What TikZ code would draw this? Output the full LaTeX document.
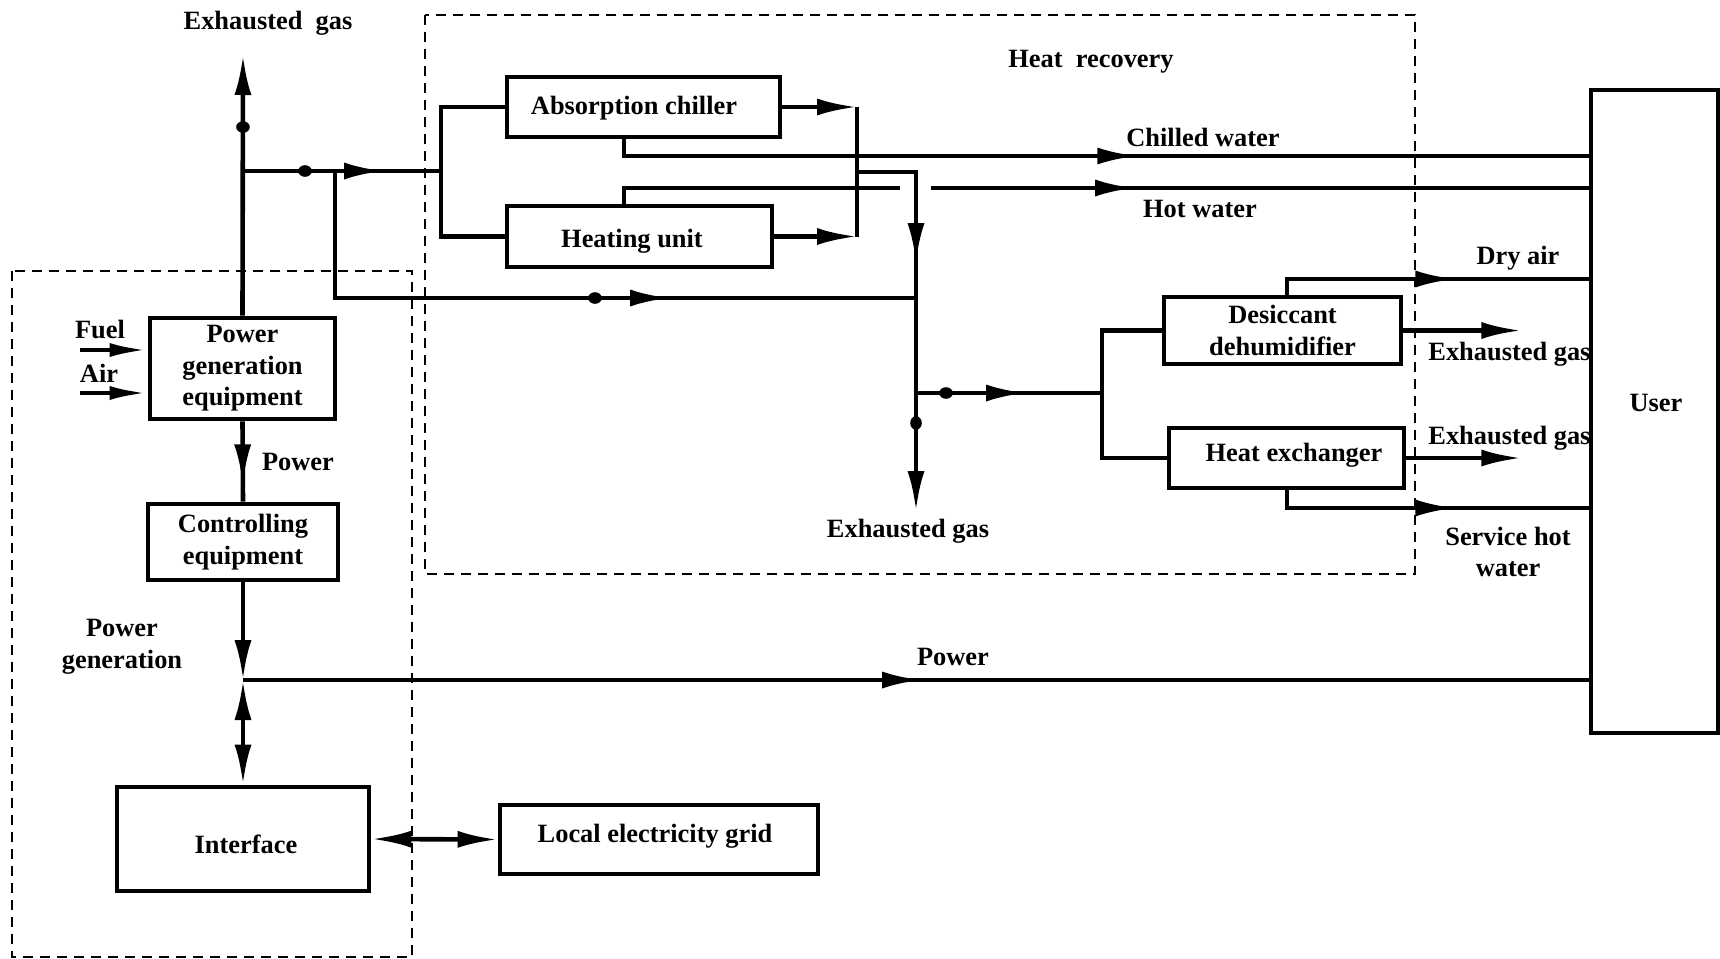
\documentclass[tikz,border=0pt]{standalone}
\usepackage{fontspec}
\setmainfont{Liberation Serif}
\usetikzlibrary{arrows.meta,decorations.markings,calc}
\begin{document}
\begin{tikzpicture}[x=0.5pt,y=-0.5pt,
  font=\fontsize{13.2pt}{15.8pt}\selectfont\bfseries,
  ln/.style={line width=2.3pt},
  blk/.style={draw,line width=2.4pt,inner sep=0pt,align=center},
  dsh/.style={line width=1pt,dash pattern=on 5pt off 3.5pt},
  ah/.tip={Latex[length=20pt,width=8.5pt]},
  ahl/.tip={Latex[length=19pt,width=7pt]},
  amark/.style={postaction={decorate},decoration={markings,mark=at position #1 with {\arrow{ah}}}},
  lbl/.style={align=center,inner sep=0pt},
]
\useasboundingbox (0,0) rectangle (1720,959);

% dashed regions
\draw[dsh] (425,15) rectangle (1415,574);
\draw[dsh] (12,271) rectangle (412,957);

% labels near user box (drawn before it)
\node[lbl,anchor=west] (lEx1) at (1428,354) {Exhausted gas};
\node[lbl,anchor=west] (lEx2) at (1428,438) {Exhausted gas};

% boxes
\node[blk,minimum width=92.5pt,minimum height=50.5pt] (pge) at (242.5,368.5) {Power\\generation\\equipment};
\node[blk,minimum width=95pt,minimum height=38pt] (ctrl) at (243,542) {Controlling\\equipment};
\node[blk,minimum width=126pt,minimum height=52pt] (iface) at (243,839) {};
\node[blk,minimum width=159pt,minimum height=34.5pt] (grid) at (659,839.5) {};
\node[blk,minimum width=136.5pt,minimum height=30pt] (chiller) at (643.5,107) {};
\node[blk,minimum width=132.5pt,minimum height=30.5pt] (heating) at (639.5,236.5) {};
\node[blk,minimum width=118.5pt,minimum height=33.5pt] (desic) at (1282.5,330.5) {Desiccant\\dehumidifier};
\node[blk,minimum width=117.5pt,minimum height=30pt] (hx) at (1286.5,458) {};
\node[blk,fill=white,minimum width=63.5pt,minimum height=321.5pt] (user) at (1654.5,411.5) {};

% box texts
\node[lbl] (tIface) at (246,844) {Interface};
\node[lbl] (tGrid) at (655,836) {Local electricity grid};
\node[lbl] (tChiller) at (634,108) {Absorption chiller};
\node[lbl] (tHeating) at (632,241) {Heating unit};
\node[lbl] (tHx) at (1294,455) {Heat exchanger};
\node[lbl] (tUser) at (1656,403) {User};

% coordinates
\coordinate (exTop) at (243,55);
\coordinate (J1) at (243,171);
\coordinate (J2) at (335,171);
\coordinate (jb) at (441,171);
\coordinate (J4) at (916,298);
\coordinate (cb) at (857,172);
\coordinate (J5) at (916,393);
\coordinate (exBot) at (916,511);
\coordinate (db) at (1102,393);
\coordinate (J3) at (243,680);
\coordinate (fuelS) at (80,350);
\coordinate (airS) at (80,393);
\coordinate (cw) at (624,156);
\coordinate (hw) at (624,188);
\coordinate (hwGap1) at (900,188);
\coordinate (hwGap2) at (931,188);
\coordinate (da) at (1287,279);
\coordinate (sw) at (1287,508);

% connectors
\draw[ln,-{ah}] (pge.north) -- (exTop);
\draw[ln,amark=70.5pt] (J1) -- (jb);
\draw[ln] (chiller.west) -| (jb) |- (heating.west);
\draw[ln,amark=231pt] (J2) |- (J4);
\draw[ln,-{ah}] (chiller.east) -- (chiller.east -| cb);
\draw[ln,-{ah}] (heating.east) -- (heating.east -| cb);
\draw[ln] (chiller.east -| cb) -- (heating.east -| cb);
\draw[ln,amark=75pt,-{ah}] (cb) -| (exBot);
\draw[ln,amark=55pt] (J5) -- (db);
\draw[ln] (desic.west) -| (db) |- (hx.west);
\draw[ln,amark=265pt] (chiller.south -| cw) |- (user.west |- cw);
\draw[ln] (heating.north -| hw) |- (hwGap1);
\draw[ln,amark=102pt] (hwGap2) -- (user.west |- hwGap2);
\draw[ln,amark=92pt] (desic.north -| da) |- (user.west |- da);
\draw[ln,-{ah}] (desic.east) -- ++(118,0);
\draw[ln,-{ah}] (hx.east) -- ++(115,0);
\draw[ln,amark=93pt] (hx.south -| sw) |- (user.west |- sw);
\draw[ln,-{ahl}] (fuelS) -- (fuelS -| pge.west);
\draw[ln,-{ahl}] (airS) -- (airS -| pge.west);
\draw[ln,amark=31.5pt] (pge.south) -- (ctrl.north);
\draw[ln,-{ah}] (ctrl.south) -- (J3);
\draw[ln,{ah}-{ah}] (J3) -- (iface.north);
\draw[ln,amark=339.5pt] (J3) -- (user.west |- J3);
\draw[ln,{ah}-{ah}] (iface.east) -- (grid.west);

% valve blobs
\fill (243,127) circle[x radius=3.4pt,y radius=2.9pt];
\fill (305,171) circle[x radius=3.4pt,y radius=2.9pt];
\fill (595,298) circle[x radius=3.4pt,y radius=2.9pt];
\fill (946,393) circle[x radius=3.4pt,y radius=2.9pt];
\fill (916,423) circle[x radius=2.9pt,y radius=3.4pt];

% labels
\node[lbl] (lExTop) at (268,23) {Exhausted\ \ gas};
\node[lbl] (lHR) at (1091,62) {Heat\ \ recovery};
\node[lbl] (lCW) at (1203,137) {Chilled water};
\node[lbl] (lHW) at (1200,209) {Hot water};
\node[lbl] (lExB) at (908,531) {Exhausted gas};
\node[lbl] (lDA) at (1518,258) {Dry air};
\node[lbl] (lSHW) at (1508,552) {Service hot\\water};
\node[lbl] (lFuel) at (100,329) {Fuel};
\node[lbl] (lAir) at (99,373) {Air};
\node[lbl] (lP1) at (298,462) {Power};
\node[lbl] (lPG) at (122,647) {Power\\generation};
\node[lbl] (lP2) at (953,657) {Power};
\end{tikzpicture}
\end{document}
